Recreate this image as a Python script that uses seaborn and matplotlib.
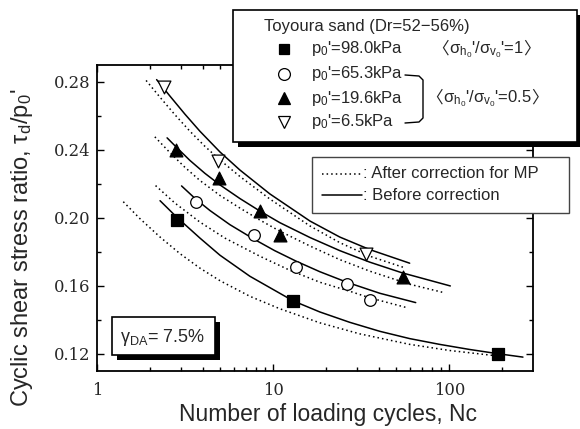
import matplotlib
matplotlib.use("Agg")
import matplotlib.pyplot as plt
import seaborn as sns
import pandas as pd
from matplotlib.patches import Rectangle
from matplotlib.lines import Line2D
from matplotlib.text import Annotation
from matplotlib.ticker import FixedLocator, NullFormatter, FixedFormatter

# ---------------- data ----------------
n_980 = [2.84, 13.0, 190.0]
tau_980 = [0.199, 0.151, 0.120]
n_653 = [3.64, 7.83, 13.5, 26.4, 35.6]
tau_653 = [0.2096, 0.190, 0.1712, 0.161, 0.1518]
n_196 = [2.81, 4.95, 8.40, 11.0, 54.3]
tau_196 = [0.2398, 0.2234, 0.2041, 0.1898, 0.1653]
n_65 = [2.40, 4.87, 33.8]
tau_65 = [0.277, 0.2335, 0.179]

# fitted curves: solid = before correction, dotted = after correction for MP
cur_65_before_n = [2.18, 2.60, 3.16, 3.84, 4.99, 6.47, 9.58, 16.2, 23.9, 35.4, 59.6]
cur_65_before_t = [0.2814, 0.2716, 0.2610, 0.2510, 0.2388, 0.2282, 0.2141, 0.1981, 0.1887, 0.1813, 0.1733]
cur_65_after_n = [1.90, 2.28, 2.77, 3.37, 4.10, 4.99, 6.47, 9.58, 16.2, 23.9, 35.4, 56.6]
cur_65_after_t = [0.2809, 0.2710, 0.2607, 0.2510, 0.2421, 0.2341, 0.2244, 0.2111, 0.1952, 0.1854, 0.1774, 0.1704]
cur_196_before_n = [2.50, 2.81, 3.37, 4.10, 4.99, 6.47, 8.41, 10.9, 16.2, 23.9, 35.4, 53.7, 101.4]
cur_196_before_t = [0.2471, 0.2418, 0.2338, 0.2262, 0.2194, 0.2114, 0.2040, 0.1972, 0.1884, 0.1807, 0.1739, 0.1677, 0.1599]
cur_196_after_n = [2.13, 2.60, 3.16, 3.84, 4.99, 6.47, 8.41, 10.9, 16.2, 23.9, 35.4, 59.6, 93.0]
cur_196_after_t = [0.2477, 0.2383, 0.2297, 0.2220, 0.2132, 0.2058, 0.1987, 0.1922, 0.1834, 0.1754, 0.1686, 0.1609, 0.1560]
cur_653_before_n = [3.02, 3.63, 4.38, 5.68, 7.77, 10.2, 13.5, 18.4, 26.2, 40.3, 64.5]
cur_653_before_t = [0.2188, 0.2111, 0.2043, 0.1960, 0.1875, 0.1807, 0.1745, 0.1683, 0.1621, 0.1556, 0.1501]
cur_653_after_n = [2.15, 2.77, 3.84, 5.32, 8.41, 12.4, 18.4, 27.2, 35.4, 56.6]
cur_653_after_t = [0.2190, 0.2087, 0.1975, 0.1881, 0.1774, 0.1692, 0.1621, 0.1568, 0.1529, 0.1473]
cur_980_before_n = [2.28, 2.83, 3.84, 4.99, 7.38, 13.0, 18.4, 27.2, 40.3, 59.6, 88.2, 130.5, 189.0, 262.0]
cur_980_before_t = [0.2101, 0.2005, 0.1881, 0.1780, 0.1656, 0.1511, 0.1446, 0.1385, 0.1332, 0.1289, 0.1255, 0.1225, 0.1200, 0.1180]
cur_980_after_n = [1.41, 1.75, 2.28, 2.96, 3.84, 4.99, 7.38, 10.9, 18.4, 31.0, 59.6, 100.5, 177.0]
cur_980_after_t = [0.2095, 0.1996, 0.1887, 0.1789, 0.1704, 0.1630, 0.1538, 0.1465, 0.1382, 0.1317, 0.1255, 0.1219, 0.1190]

x_ticks = [1, 10, 100]
x_tick_labels = ["1", "10", "100"]
y_ticks = [0.12, 0.16, 0.20, 0.24, 0.28]
y_tick_labels = ["0.12", "0.16", "0.20", "0.24", "0.28"]

legend_title = "Toyoura sand (Dr=52\u221256%)"
legend_labels = ["p$_0$'=98.0kPa", "p$_0$'=65.3kPa", "p$_0$'=19.6kPa", "p$_0$'=6.5kPa"]
ratio_1 = "\u03c3$_{h_0}$'/\u03c3$_{v_0}$'=1"
ratio_05 = "\u03c3$_{h_0}$'/\u03c3$_{v_0}$'=0.5"
bracket_open, bracket_close = "\u3008", "\u3009"
line_labels = [": After correction for MP", ": Before correction"]
gamma_label = "\u03b3$_{DA}$= 7.5%"
xlabel = "Number of loading cycles, Nc"
ylabel = "Cyclic shear stress ratio, \u03c4$_d$/p$_0$'"

# ---------------- style ----------------
sns.set_style("ticks")
SANS = ["Liberation Sans", "Noto Sans CJK JP", "DejaVu Sans"]
CJK = ["Noto Sans CJK JP", "DejaVu Sans"]
plt.rcParams["font.family"] = SANS
plt.rcParams["mathtext.fontset"] = "custom"
plt.rcParams["mathtext.rm"] = "Liberation Sans"
plt.rcParams["mathtext.it"] = "Liberation Sans"
plt.rcParams["mathtext.default"] = "regular"

W, H = 580, 429
fig = plt.figure(figsize=(W / 100, H / 100), dpi=100)


def fx(px):
    return px / W


def fy(py):
    return 1 - py / H


ax = fig.add_axes([fx(97), fy(370.7), fx(533.3) - fx(97), fy(65) - fy(370.7)])

DOT = (0, (1.0, 2.0))
curves = [
    (cur_65_before_n, cur_65_before_t, "-"),
    (cur_65_after_n, cur_65_after_t, DOT),
    (cur_196_before_n, cur_196_before_t, "-"),
    (cur_196_after_n, cur_196_after_t, DOT),
    (cur_653_before_n, cur_653_before_t, "-"),
    (cur_653_after_n, cur_653_after_t, DOT),
    (cur_980_before_n, cur_980_before_t, "-"),
    (cur_980_after_n, cur_980_after_t, DOT),
]
for cn, ct, ls in curves:
    sns.lineplot(x=cn, y=ct, ax=ax, color="black", linestyle=ls, linewidth=1.1,
                 estimator=None, sort=False, legend=False)

pts = [
    (n_980, tau_980, "s", "black", 65),
    (n_653, tau_653, "o", "white", 70),
    (n_196, tau_196, "^", "black", 85),
    (n_65, tau_65, "v", "white", 85),
]
for pn, pt, mk, fc, sz in pts:
    sns.scatterplot(x=pn, y=pt, ax=ax, marker=mk, s=sz, color=fc,
                    edgecolor="black", linewidth=0.9, zorder=5, legend=False)

ax.set_xscale("log")
ax.set_xlim(1, 300)
ax.set_ylim(0.11, 0.29)
ax.xaxis.set_major_locator(FixedLocator(x_ticks))
ax.xaxis.set_major_formatter(FixedFormatter(x_tick_labels))
ax.xaxis.set_minor_locator(FixedLocator([k * 10 ** e for e in range(0, 3) for k in range(2, 10)
                                         if k * 10 ** e < 300]))
ax.xaxis.set_minor_formatter(NullFormatter())
ax.yaxis.set_major_locator(FixedLocator(y_ticks))
ax.yaxis.set_major_formatter(FixedFormatter(y_tick_labels))
ax.yaxis.set_minor_locator(FixedLocator([0.14, 0.18, 0.22, 0.26]))

for s in ax.spines.values():
    s.set_linewidth(1.3)
    s.set_color("black")
ax.tick_params(which="both", direction="in", top=True, right=True, color="black", width=1.0)
ax.tick_params(which="major", length=5)
ax.tick_params(which="minor", length=3)
ax.tick_params(axis="x", which="major", pad=8)
ax.tick_params(axis="y", which="major", pad=5)
for lab in ax.get_xticklabels() + ax.get_yticklabels():
    lab.set_fontfamily("DejaVu Serif")
    lab.set_fontsize(11.8)

ax.set_xlabel(xlabel, fontsize=16.5)
ax.set_ylabel(ylabel, fontsize=17)
ax.xaxis.set_label_coords((327.5 - 97) / 436.3, -(415 - 370.7) / 305.7)
ax.xaxis.label.set_va("center")
ax.yaxis.set_label_coords((22 - 97) / 436.3, (370.7 - 248) / 305.7)
ax.yaxis.label.set_va("center")


# ---------------- annotation boxes ----------------
def box(x0, y0, x1, y1, shadow=0, ec="black", lw=1.2, z=10):
    if shadow:
        fig.add_artist(Rectangle((fx(x0 + shadow), fy(y1 + shadow)), fx(x1) - fx(x0), fy(y0) - fy(y1),
                                 transform=fig.transFigure, facecolor="black", edgecolor="none", zorder=z))
    fig.add_artist(Rectangle((fx(x0), fy(y1)), fx(x1) - fx(x0), fy(y0) - fy(y1),
                             transform=fig.transFigure, facecolor="white", edgecolor=ec, lw=lw, zorder=z + 1))


def ftext(px, py, s, size=12, ha="left", z=12):
    return fig.text(fx(px), fy(py), s, fontsize=size, ha=ha, va="center", zorder=z)


def chain(px, py_base, parts, size=12):
    first = fig.text(fx(px), fy(py_base), parts[0][0], fontsize=size, family=parts[0][1],
                     ha="left", va="baseline", zorder=12)
    prev = first
    for s, fam in parts[1:]:
        ann = Annotation(s, xy=(1, fy(py_base)), xycoords=(prev, "figure fraction"),
                         xytext=(0, 0), textcoords="offset points", ha="left", va="baseline",
                         fontsize=size, family=fam, zorder=12, annotation_clip=False)
        fig.add_artist(ann)
        prev = ann


# main legend
box(233, 10, 577, 142, shadow=5)
ftext(264, 26, legend_title)
rows = [49, 74, 98, 122]
mk_style = [("s", "black", 7.5), ("o", "white", 8.5), ("^", "black", 9), ("v", "white", 9)]
for yy, lab, (mk, fc, ms) in zip(rows, legend_labels, mk_style):
    fig.add_artist(Line2D([fx(283.5)], [fy(yy)], marker=mk, markersize=ms, markerfacecolor=fc,
                          markeredgecolor="black", markeredgewidth=0.9, linestyle="none",
                          transform=fig.transFigure, zorder=12))
    ftext(311, yy, lab)
chain(432, 49 + 4.5, [(bracket_open, CJK), (ratio_1, SANS), (bracket_close, CJK)])
chain(426, 98 + 4.5, [(bracket_open, CJK), (ratio_05, SANS), (bracket_close, CJK)])
bx = [405, 419, 423, 423, 419, 405]
by = [75, 76, 80, 118, 122, 123]
fig.add_artist(Line2D([fx(v) for v in bx], [fy(v) for v in by], color="black", lw=1.0,
                      transform=fig.transFigure, zorder=12))

# line-style legend
box(312, 157, 569, 213, shadow=0, ec="#444444", lw=1.0)
fig.add_artist(Line2D([fx(322), fx(362)], [fy(174), fy(174)], color="black", lw=1.1, linestyle=DOT,
                      transform=fig.transFigure, zorder=12))
fig.add_artist(Line2D([fx(322), fx(362)], [fy(195), fy(195)], color="black", lw=1.1,
                      transform=fig.transFigure, zorder=12))
ftext(363, 174, line_labels[0])
ftext(363, 195, line_labels[1])

# gamma box
box(112, 317, 215, 355, shadow=5)
ftext(163, 337, gamma_label, size=13, ha="center")

fig.savefig("out.png", dpi=100)
